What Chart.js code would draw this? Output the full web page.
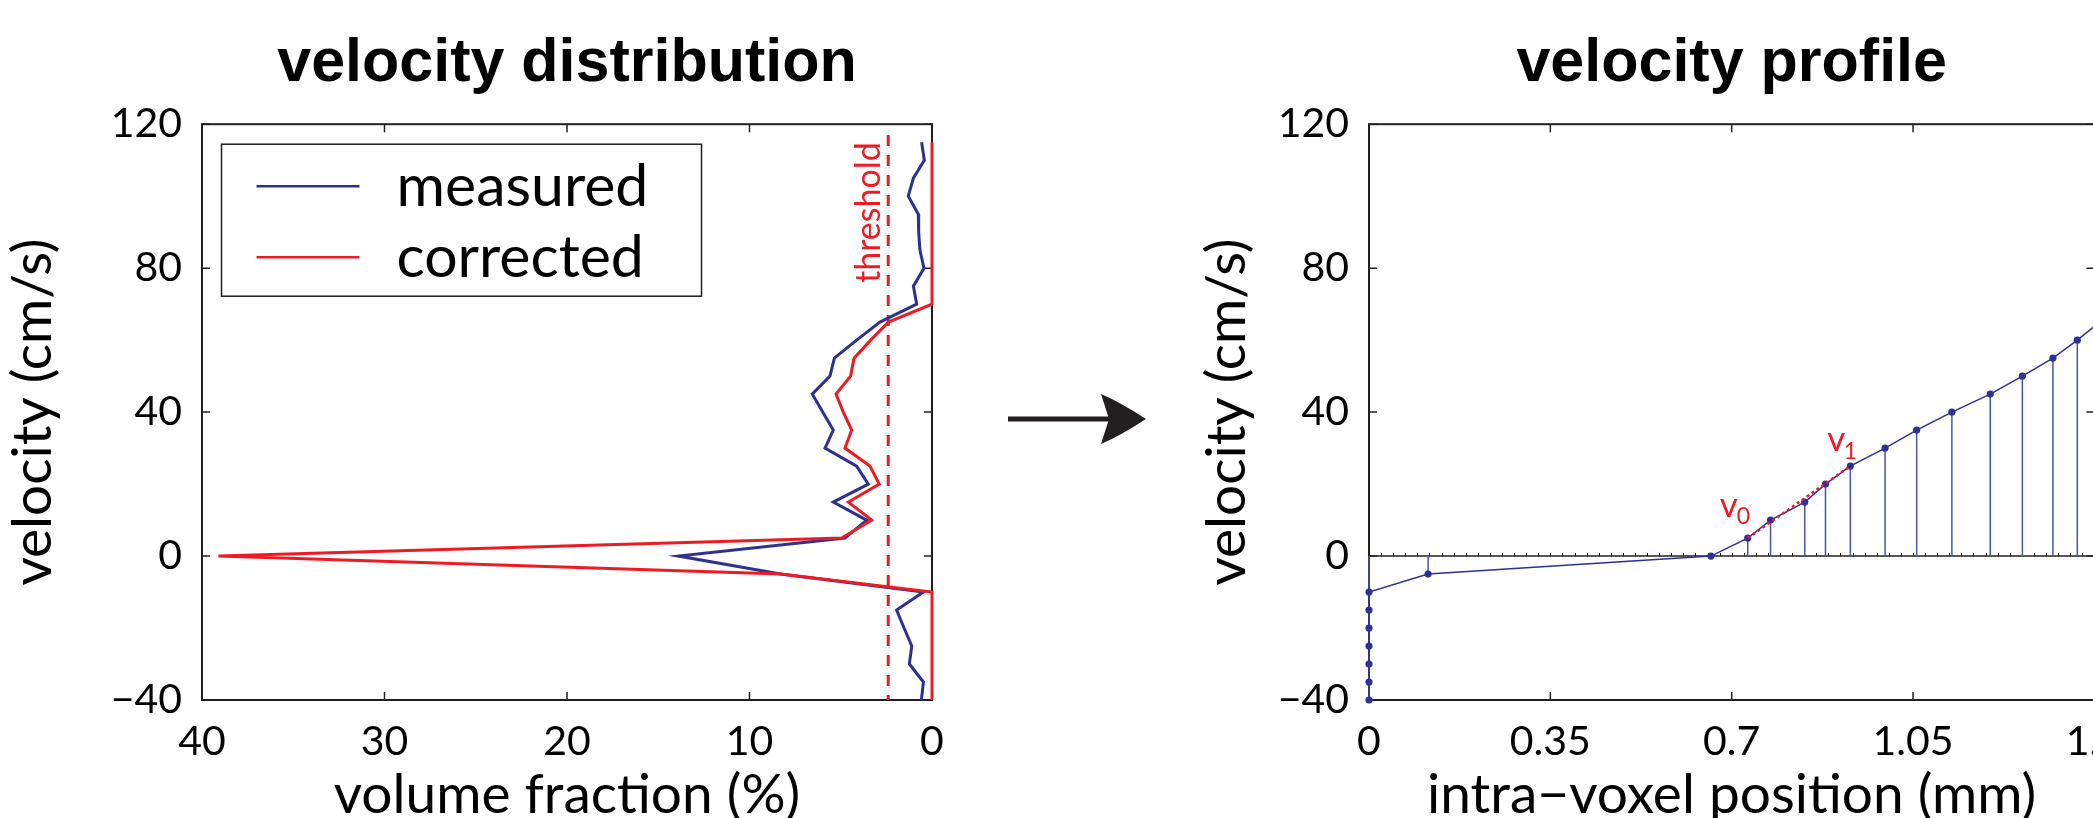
<!DOCTYPE html>
<html>
<head>
<meta charset="utf-8">
<script src="https://cdn.jsdelivr.net/npm/chart.js@4.4.1/dist/chart.umd.min.js"></script>
<style>
  body { margin: 0; width: 2093px; height: 818px; overflow: hidden; background: #fff; position: relative; }
  #wrapDist { position: absolute; left: 0; top: 0; }
  #wrapProf { position: absolute; left: 980px; top: 0; }
</style>
</head>
<body>
<div id="wrapDist"><canvas id="dist" width="980" height="818"></canvas></div>
<div id="wrapProf"><canvas id="prof" width="1160" height="818"></canvas></div>
<script>
// ---- left panel: velocity distribution ----
const velBins = [115, 110, 105, 100, 95, 90, 85, 80, 75, 70, 65, 60, 55, 50, 45, 40,
  35, 30, 25, 20, 15, 10, 5, 0, -5, -10, -15, -20, -25, -30, -35, -40];
const measured = [0.57, 0.42, 1.02, 1.30, 0.75, 0.73, 0.66, 0.44, 1.02, 0.84, 2.85, 4.13, 5.35, 5.59, 6.56, 5.99,
  5.41, 5.86, 4.13, 3.49, 5.41, 3.58, 4.77, 13.9, 8.3, 0.47, 1.94, 1.53, 1.11, 1.24, 0.47, 0.58];
const corrected = [0, 0, 0, 0, 0, 0, 0, 0, 0, 0, 2.39, 3.36, 4.27, 4.46, 5.26, 4.86,
  4.40, 4.77, 3.40, 2.89, 4.58, 3.30, 4.95, 39.1, 8.3, 0, 0, 0, 0, 0, 0, 0];
const threshold = 2.4;
const thresholdSpan = [117, -40];
const fracTicks = [0, 10, 20, 30, 40];

// ---- right panel: velocity profile ----
const profPos = [0, 0, 0, 0, 0, 0, 0, 0.114, 0.66, 0.731, 0.775, 0.841, 0.881, 0.929,
  0.996, 1.057, 1.125, 1.199, 1.261, 1.320, 1.367, 1.41];
const profVel = [-40, -35, -30, -25, -20, -15, -10, -5, 0, 5, 10, 15, 20, 25,
  30, 35, 40, 45, 50, 55, 60, 65];
const v0Index = 9, v1Index = 13;
const posTicks = [0, 0.35, 0.7, 1.05, 1.4];
const velTicks = [-40, 0, 40, 80, 120];

const blue = '#2e3192';
const stemBlue = '#4b55a6';
const red = '#ed1c24';
const ink = '#231f20';

Chart.defaults.color = '#000';
const tickFont = { family: 'Lato', size: 41 };
const axisTitleFont = { family: 'Lato', size: 55, lineHeight: 1.2 };
const mainTitleFont = { family: "'Liberation Sans', Arial", size: 61, weight: 'bold', lineHeight: 1.2 };

function fmt(v) {
  return v < 0 ? '\u2212' + Math.abs(v) : String(v);
}

// box + inward tick marks on all four sides
const frameTicks = {
  id: 'frameTicks',
  beforeDatasetsDraw(chart) {
    const { ctx, chartArea: a, scales: { x, y } } = chart;
    ctx.save();
    ctx.strokeStyle = ink;
    ctx.lineWidth = 2;
    ctx.strokeRect(a.left, a.top, a.right - a.left, a.bottom - a.top);
    ctx.lineWidth = 1.5;
    ctx.beginPath();
    x.ticks.forEach(t => {
      const px = x.getPixelForValue(t.value);
      ctx.moveTo(px, a.bottom); ctx.lineTo(px, a.bottom - 8);
      ctx.moveTo(px, a.top); ctx.lineTo(px, a.top + 8);
    });
    y.ticks.forEach(t => {
      const py = y.getPixelForValue(t.value);
      ctx.moveTo(a.left, py); ctx.lineTo(a.left + 8, py);
      ctx.moveTo(a.right, py); ctx.lineTo(a.right - 8, py);
    });
    ctx.stroke();
    ctx.restore();
  }
};

const distLegend = {
  id: 'distLegend',
  afterDatasetsDraw(chart) {
    const { ctx, chartArea: a } = chart;
    const left = a.left + 19.5, top = a.top + 20, w = 480, h = 152;
    ctx.save();
    ctx.fillStyle = '#fff';
    ctx.fillRect(left, top, w, h);
    ctx.strokeStyle = ink;
    ctx.lineWidth = 1.5;
    ctx.strokeRect(left, top, w, h);
    ['measured', 'corrected'].forEach((name, i) => {
      const ds = chart.data.datasets.find(d => d.label === name);
      const ly = top + 42 + i * 71;
      ctx.strokeStyle = ds.borderColor;
      ctx.lineWidth = 2.5;
      ctx.beginPath();
      ctx.moveTo(left + 35, ly);
      ctx.lineTo(left + 138, ly);
      ctx.stroke();
      ctx.fillStyle = '#000';
      ctx.font = '59px Lato';
      ctx.textBaseline = 'alphabetic';
      ctx.fillText(name, left + 175, top + 62 + i * 71);
    });
    ctx.restore();
  }
};

const thresholdLabel = {
  id: 'thresholdLabel',
  afterDatasetsDraw(chart) {
    const { ctx, scales: { x, y } } = chart;
    ctx.save();
    ctx.translate(x.getPixelForValue(threshold) - 8, y.getPixelForValue(115));
    ctx.rotate(-Math.PI / 2);
    ctx.fillStyle = red;
    ctx.font = '34px Lato';
    ctx.textAlign = 'right';
    ctx.textBaseline = 'alphabetic';
    ctx.fillText('threshold', 0, 0);
    ctx.restore();
  }
};

// zero line with small minor ticks
const zeroLine = {
  id: 'zeroLine',
  beforeDatasetsDraw(chart) {
    const { ctx, chartArea: a, scales: { x, y } } = chart;
    const y0 = y.getPixelForValue(0);
    ctx.save();
    ctx.strokeStyle = ink;
    ctx.lineWidth = 1.5;
    ctx.beginPath();
    ctx.moveTo(a.left, y0);
    ctx.lineTo(a.right, y0);
    ctx.stroke();
    ctx.lineWidth = 1;
    ctx.beginPath();
    const step = 0.35 / 15;
    for (let k = 1; k * step < x.max; k++) {
      const px = Math.round(x.getPixelForValue(k * step)) + 0.5;
      ctx.moveTo(px, y0 - 3);
      ctx.lineTo(px, y0);
    }
    ctx.stroke();
    ctx.restore();
  }
};

const vLabels = {
  id: 'vLabels',
  afterDatasetsDraw(chart) {
    const { ctx, scales: { x, y } } = chart;
    const marks = [
      { i: v0Index, sub: '0', dx: -28, dy: -21, sdx: -11, sdy: -14 },
      { i: v1Index, sub: '1', dx: -23, dy: -15, sdx: -6.5, sdy: -7 }
    ];
    ctx.save();
    ctx.fillStyle = red;
    ctx.textBaseline = 'alphabetic';
    marks.forEach(m => {
      const px = x.getPixelForValue(profPos[m.i]);
      const py = y.getPixelForValue(profVel[m.i]);
      ctx.font = '35px Lato';
      ctx.fillText('v', px + m.dx, py + m.dy);
      ctx.font = '23px Lato';
      ctx.fillText(m.sub, px + m.sdx, py + m.sdy);
    });
    ctx.restore();
  }
};

const arrow = {
  id: 'arrow',
  afterDraw(chart) {
    const ctx = chart.ctx;
    ctx.save();
    ctx.fillStyle = ink;
    ctx.fillRect(28, 416.5, 104, 5);
    ctx.beginPath();
    ctx.moveTo(166, 419);
    ctx.quadraticCurveTo(140, 402, 121, 394);
    ctx.lineTo(129, 419);
    ctx.lineTo(121, 444);
    ctx.quadraticCurveTo(140, 436, 166, 419);
    ctx.closePath();
    ctx.fill();
    ctx.restore();
  }
};

function axisX(ticks, extra) {
  return Object.assign({
    type: 'linear',
    grid: { display: false, drawTicks: false },
    border: { display: false },
    afterBuildTicks: s => { s.ticks = ticks.map(v => ({ value: v })); },
    afterFit: s => { s.height = 118; },
    ticks: { font: tickFont, color: '#000', padding: 17, maxRotation: 0, callback: v => fmt(v) }
  }, extra);
}

function axisY(width, titlePad) {
  return {
    type: 'linear',
    min: -40, max: 120,
    grid: { display: false, drawTicks: false },
    border: { display: false },
    afterBuildTicks: s => { s.ticks = velTicks.map(v => ({ value: v })); },
    afterFit: s => { s.width = width; },
    ticks: { font: tickFont, color: '#000', padding: 20, callback: v => fmt(v) },
    title: { display: true, text: 'velocity (cm/s)', font: axisTitleFont, color: '#000', padding: { top: titlePad, bottom: 0 } }
  };
}

function mainTitle(text) {
  return { display: true, text: text, fullSize: false, color: '#000', font: mainTitleFont, padding: { top: 28, bottom: 23 } };
}

new Chart(document.getElementById('dist'), {
  type: 'scatter',
  data: {
    datasets: [
      { label: 'corrected', data: velBins.map((v, i) => ({ x: corrected[i], y: v })),
        showLine: true, borderColor: red, borderWidth: 3, pointRadius: 0, clip: false, borderJoinStyle: 'miter' },
      { label: 'measured', data: velBins.map((v, i) => ({ x: measured[i], y: v })),
        showLine: true, borderColor: blue, borderWidth: 3, pointRadius: 0, clip: false, borderJoinStyle: 'miter' },
      { label: 'threshold', data: thresholdSpan.map(v => ({ x: threshold, y: v })),
        showLine: true, borderColor: red, borderWidth: 3, borderDash: [11, 9], pointRadius: 0 }
    ]
  },
  options: {
    responsive: false,
    animation: false,
    events: [],
    layout: { padding: { left: 0, right: 48, top: 0, bottom: 0 } },
    plugins: {
      legend: { display: false },
      tooltip: { enabled: false },
      title: mainTitle('velocity distribution')
    },
    scales: {
      x: axisX(fracTicks, {
        min: 0, max: 40, reverse: true,
        title: { display: true, text: 'volume fraction (%)', font: axisTitleFont, color: '#000', padding: { top: 0, bottom: -10 } }
      }),
      y: axisY(202, 0)
    }
  },
  plugins: [frameTicks, distLegend, thresholdLabel]
});

const stemData = [];
profPos.forEach((p, i) => {
  stemData.push({ x: p, y: 0 }, { x: p, y: profVel[i] }, { x: p, y: null });
});

new Chart(document.getElementById('prof'), {
  type: 'scatter',
  data: {
    datasets: [
      { label: 'v0-v1', data: [v0Index, v1Index].map(i => ({ x: profPos[i], y: profVel[i] })),
        showLine: true, borderColor: red, borderWidth: 2.5, borderDash: [3, 3], pointRadius: 0 },
      { label: 'profile', data: profPos.map((p, i) => ({ x: p, y: profVel[i] })),
        showLine: true, borderColor: blue, borderWidth: 1.5, pointRadius: 3.6,
        pointBackgroundColor: blue, pointBorderWidth: 0, clip: false },
      { label: 'stems', data: stemData, showLine: true, spanGaps: false,
        borderColor: stemBlue, borderWidth: 1.5, pointRadius: 0, clip: false }
    ]
  },
  options: {
    responsive: false,
    animation: false,
    events: [],
    layout: { padding: { left: 0, right: 41, top: 0, bottom: 0 } },
    plugins: {
      legend: { display: false },
      tooltip: { enabled: false },
      title: mainTitle('velocity profile')
    },
    scales: {
      x: axisX(posTicks, {
        min: 0, max: 1.4,
        title: { display: true, text: 'intra\u2212voxel position (mm)', font: axisTitleFont, color: '#000', padding: { top: 0, bottom: -10 } }
      }),
      y: axisY(389, 214)
    }
  },
  plugins: [frameTicks, zeroLine, vLabels, arrow]
});
</script>
</body>
</html>
